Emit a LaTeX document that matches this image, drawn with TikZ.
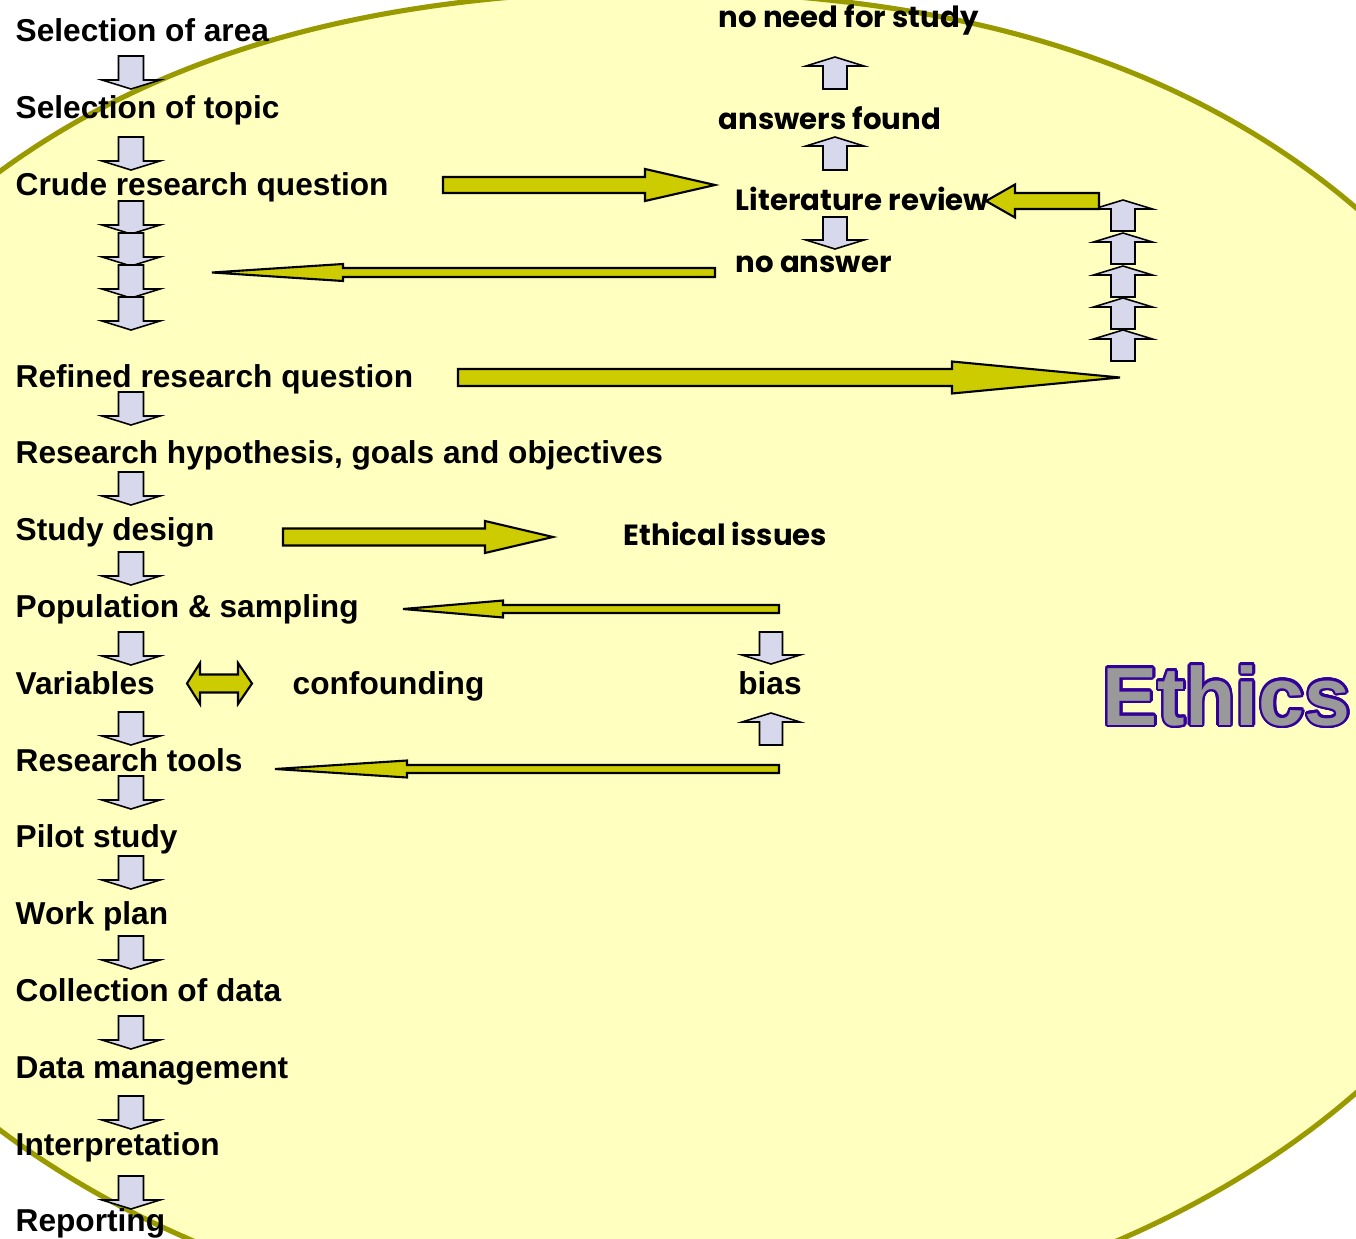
\documentclass[tikz,border=0pt]{standalone}
\usepackage{fontspec}
\setmainfont{Liberation Sans}
\newfontfamily\gothic{Poppins}
\usepackage{contour}
\contourlength{0.7pt}
\contournumber{24}
\definecolor{EllFill}{HTML}{FFFFC0}
\definecolor{EllLine}{HTML}{999900}
\definecolor{ArrYellow}{HTML}{CCCC00}
\definecolor{ArrBlue}{HTML}{D8D8EC}
\definecolor{EthGray}{HTML}{999999}
\definecolor{EthPurple}{HTML}{330099}
\tikzset{
  lbl/.style={anchor=base west, inner sep=0pt, font=\fontsize{9}{10}\selectfont\bfseries},
  glbl/.style={anchor=base west, inner sep=0pt, font=\gothic\fontsize{8.3}{10}\selectfont\bfseries},
  yarr/.style={fill=ArrYellow, draw=black, line width=0.6pt, line join=miter},
  barr/.style={fill=ArrBlue, draw=black, line width=0.45pt, line join=miter},
}
% vertical block arrow: style, ytail, yheadback, ytip, xc, shafthalf, headhalf
\newcommand\VArr[7]{\draw[#1] (#5-#6,#2) -- (#5-#6,#3) -- (#5-#7,#3) -- (#5,#4) -- (#5+#7,#3) -- (#5+#6,#3) -- (#5+#6,#2) -- cycle;}
% horizontal block arrow: style, xtail, xheadback, xtip, yc, shafthalf, headhalf
\newcommand\HArr[7]{\draw[#1] (#2,#5-#6) -- (#3,#5-#6) -- (#3,#5-#7) -- (#4,#5) -- (#3,#5+#7) -- (#3,#5+#6) -- (#2,#5+#6) -- cycle;}
\newcommand\DArr[1]{\VArr{barr}{#1}{#1+24}{#1+33}{131}{12.5}{29}}
\begin{document}
\begin{tikzpicture}[x=0.01cm,y=-0.01cm]
\useasboundingbox (0,0) rectangle (1356,1239);
\fill[white] (0,0) rectangle (1356,1239);
\begin{scope}
  \clip (0,0) rectangle (1356,1239);
  \draw[fill=EllFill, draw=EllLine, line width=1.45pt, line join=round]
    plot[smooth cycle, domain=0:358, samples=180, variable=\t]
    ({655+921*cos(\t)}, {650+683*sin(\t)+24*(sin(\t)<0)*sin(\t)*sin(\t)*sin(\t)*sin(\t)*sin(\t)*sin(\t)*sin(\t)*sin(\t)});
\end{scope}

% left column
\node[lbl] (n1) at (15,41) {Selection of area};
\node[lbl] (n2) at (15,118) {Selection of topic};
\node[lbl] (n3) at (15,195) {Crude research question};
\node[lbl] (n4) at (15,387) {Refined research question};
\node[lbl] (n5) at (15,463) {Research hypothesis, goals and objectives};
\node[lbl] (n6) at (15,540) {Study design};
\node[lbl] (n7) at (15,617) {Population \& sampling};
\node[lbl] (n8) at (15,694) {Variables};
\node[lbl] (n9) at (15,771) {Research tools};
\node[lbl] (n10) at (15,847) {Pilot study};
\node[lbl] (n11) at (15,924) {Work plan};
\node[lbl] (n12) at (15,1001) {Collection of data};
\node[lbl] (n13) at (15,1078) {Data management};
\node[lbl] (n14) at (15,1155) {Interpretation};
\node[lbl] (n15) at (15,1231) {Reporting};

\foreach \t in {56,137,201,233,265,297,392,472,552,632,712,776,856,936,1016,1096,1176} {\DArr{\t}}

% right column
\node[glbl] (need) at (718,27) {no need for study};
\node[glbl] (found) at (718,129) {answers found};
\node[glbl] (lit) at (735,210) {Literature review};
\node[glbl] (noans) at (735,272) {no answer};
\node[glbl] (eth) at (623,545) {Ethical issues};
\node[lbl] (conf) at (292,694) {confounding};
\node[lbl, anchor=base] (bias) at (770,694) {bias};

\VArr{barr}{89}{66}{57}{835}{12}{29}
\VArr{barr}{170}{146}{137}{835}{12}{29}
\VArr{barr}{217}{240}{249}{835}{12}{29}

\foreach \p in {200,233,266,298,330} {\VArr{barr}{\p+31}{\p+9}{\p}{1123}{12}{29.5}}

\VArr{barr}{632}{655}{664}{771}{11.5}{29}
\VArr{barr}{745}{722}{713}{771}{11.5}{29}

% yellow arrows
\HArr{yarr}{443}{645}{715}{185}{8}{16}
\HArr{yarr}{1099}{1015}{986}{201}{8}{16.5}
\HArr{yarr}{715}{343}{212}{272.5}{4.5}{8.5}
\HArr{yarr}{458}{952}{1120}{377.5}{8.5}{16}
\HArr{yarr}{283}{485}{553}{537}{8.5}{16}
\HArr{yarr}{779}{503}{403}{609}{4}{8.5}
\HArr{yarr}{779}{407}{275}{769}{4}{8.5}
\draw[yarr] (187,683.5) -- (200,663) -- (200,674.5) -- (238,674.5) -- (238,663) -- (252,683.5) -- (238,704) -- (238,692.5) -- (200,692.5) -- (200,704) -- cycle;

% Ethics
\node[anchor=base west, inner sep=0pt, font=\fontsize{23.5}{26}\selectfont\bfseries, text=EthGray] (ethics) at (1102,725) {\contour{EthPurple}{Ethics}};
\end{tikzpicture}
\end{document}
